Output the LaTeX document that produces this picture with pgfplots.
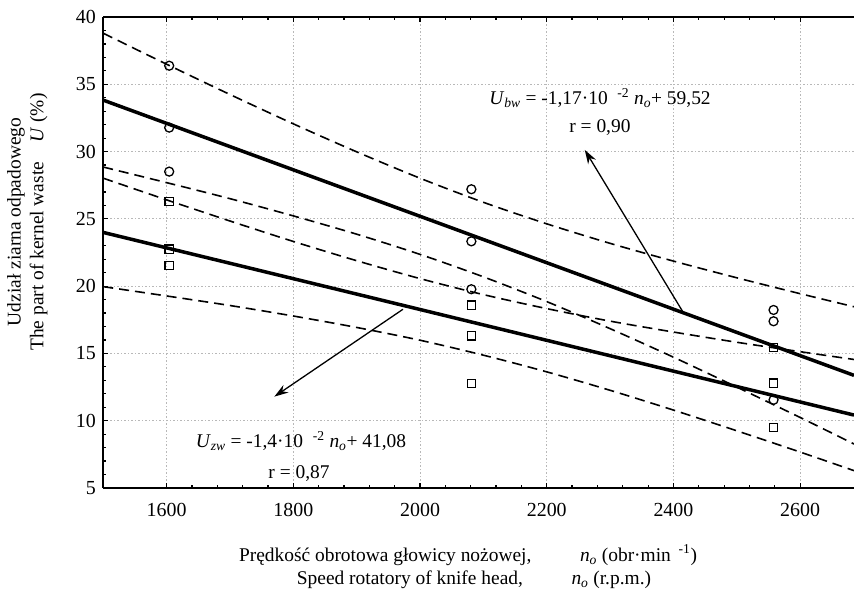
\documentclass[border=0pt]{standalone}
\usepackage{fontspec}
\setmainfont{Liberation Serif}
\usepackage{pgfplots}
\pgfplotsset{compat=1.18}
\usetikzlibrary{arrows.meta}
\newcommand{\lbl}{\fontsize{19.5}{23}\selectfont}

\begin{document}
\begin{tikzpicture}
\begin{axis}[
  scale only axis, width=750.7bp, height=471bp,
  xmin=1500, xmax=2685, ymin=5, ymax=40,
  xtick={1600,1800,...,2600}, ytick={5,10,...,40},
  minor x tick num=4, minor y tick num=4,
  axis x line*=box, axis y line*=left,
  axis line style={line width=1.6bp, black},
  tick align=inside,
  major tick length=5bp, minor tick length=3bp,
  every tick/.append style={black, line width=1.2bp},
  grid=major, grid style={dash pattern=on 1.5bp off 2bp, black!28, line width=1bp},
  tick label style={font=\fontsize{20}{24}\selectfont},
  /pgf/number format/assume math mode=true,
  /pgf/number format/1000 sep={},
  scaled ticks=false,
  xticklabel style={yshift=-12bp},
  yticklabel style={xshift=-4bp},
]
  % confidence bands (dashed)
  \addplot[black, line width=1.6bp, dash pattern=on 10bp off 6bp, smooth] coordinates {
    (1500,38.79)(1600,36.49)(1700,34.24)(1800,32.06)(1900,29.98)(2000,28.02)(2100,26.23)
    (2200,24.63)(2300,23.18)(2400,21.86)(2500,20.62)(2600,19.44)(2685,18.47)};
  \addplot[black, line width=1.6bp, dash pattern=on 10bp off 6bp, smooth] coordinates {
    (1500,28.85)(1600,27.69)(1700,26.50)(1800,25.22)(1900,23.86)(2000,22.36)(2100,20.69)
    (2200,18.85)(2300,16.84)(2400,14.72)(2500,12.50)(2600,10.24)(2685,8.27)};
  \addplot[black, line width=1.6bp, dash pattern=on 10bp off 6bp, smooth] coordinates {
    (1500,28.02)(1600,26.41)(1700,24.84)(1800,23.32)(1900,21.89)(2000,20.56)(2100,19.37)
    (2200,18.33)(2300,17.40)(2400,16.59)(2500,15.83)(2600,15.13)(2685,14.55)};
  \addplot[black, line width=1.6bp, dash pattern=on 10bp off 6bp, smooth] coordinates {
    (1500,19.96)(1600,19.27)(1700,18.56)(1800,17.78)(1900,16.93)(2000,15.98)(2100,14.87)
    (2200,13.63)(2300,12.26)(2400,10.79)(2500,9.25)(2600,7.67)(2685,6.29)};
  % regression lines
  \addplot[black, line width=3.5bp] coordinates {(1500,33.82)(2685,13.37)};
  \addplot[black, line width=3.5bp] coordinates {(1500,23.99)(2685,10.42)};
  % measured points
  \addplot[only marks, mark=o, mark size=4.5bp, mark options={line width=1.3bp, fill=none}, black] coordinates {
    (1604,36.38)(1604,31.78)(1604,28.51)(2081,27.20)(2081,23.33)(2081,19.77)(2558,18.23)(2558,17.39)(2558,11.55)};
  \addplot[only marks, mark=square, mark size=4.2bp, mark options={line width=1.3bp, fill=none}, black] coordinates {
    (1604,26.28)(1604,22.74)(1604,21.53)(2081,18.58)(2081,16.32)(2081,12.76)(2558,15.43)(2558,12.78)(2558,9.49)};
  % annotations
  \node[font=\lbl] at (axis cs:2284,33.98) {\textit{U}\textsubscript{\textit{bw}} = -1,17·10\hspace{0.5em}\textsuperscript{-2} \textit{n}\textsubscript{\textit{o}}+ 59,52};
  \node[font=\lbl] at (axis cs:2284,31.75) {r = 0,90};
  \node[font=\lbl] at (axis cs:1812,8.5) {\textit{U}\textsubscript{\textit{zw}} = -1,4·10\hspace{0.5em}\textsuperscript{-2} \textit{n}\textsubscript{\textit{o}}+ 41,08};
  \node[font=\lbl] at (axis cs:1809,6.05) {r = 0,87};
  \draw[black, line width=1.3bp, -{Stealth[length=14bp, width=9bp]}] (axis cs:2415,18.08) -- (axis cs:2260,30.12);
  \draw[black, line width=1.3bp, -{Stealth[length=14bp, width=9bp]}] (axis cs:1973,18.28) -- (axis cs:1770,11.79);
  \coordinate (sw) at (rel axis cs:0,0);
  \coordinate (ne) at (rel axis cs:1,1);
\end{axis}
\node[rotate=90, align=center, font=\lbl] at ([xshift=-76bp, yshift=266bp]sw)
  {Udział ziarna odpadowego\\The part of kernel waste\quad\textit{U} (\%)};
\node[font=\lbl] at ([xshift=364.7bp, yshift=-67bp]sw)
  {Prędkość obrotowa głowicy nożowej,\hspace{2.5em}\textit{n}\textsubscript{\textit{o}} (obr·min\hspace{0.4em}\textsuperscript{-1})};
\node[font=\lbl] at ([xshift=370.7bp, yshift=-92bp]sw)
  {Speed rotatory of knife head,\hspace{2.5em}\textit{n}\textsubscript{\textit{o}} (r.p.m.)};
\pgfresetboundingbox
\path[use as bounding box] ([xshift=-103.3bp, yshift=-114bp]sw) rectangle ([yshift=17bp]ne);
\end{tikzpicture}
\end{document}
